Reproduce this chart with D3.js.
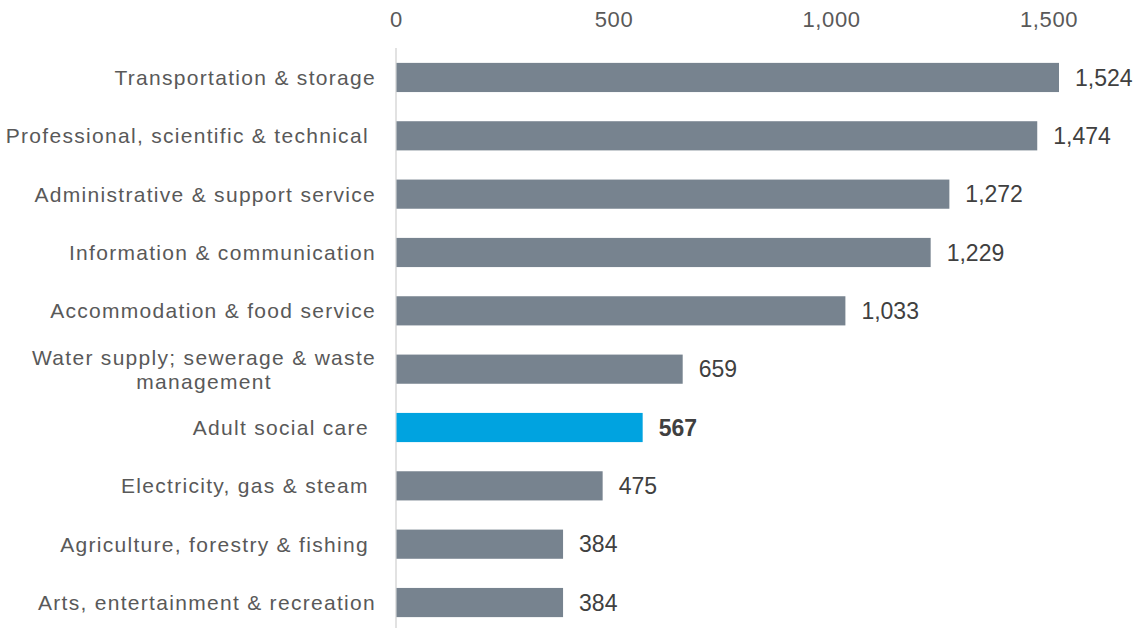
<!DOCTYPE html>
<html><head><meta charset="utf-8">
<script src="https://cdn.jsdelivr.net/npm/d3@7"></script>
<style>
body{margin:0;background:#fff;}
text{font-family:"Liberation Sans",Arial,sans-serif;}
</style></head>
<body><svg id="c" width="1138" height="628"></svg>
<script>
const categories = [
  "Transportation & storage",
  "Professional, scientific & technical ",
  "Administrative & support service",
  "Information & communication",
  "Accommodation & food service",
  "Water supply; sewerage & waste|management",
  "Adult social care ",
  "Electricity, gas & steam ",
  "Agriculture, forestry & fishing ",
  "Arts, entertainment & recreation"
];
const values = [1524, 1474, 1272, 1229, 1033, 659, 567, 475, 384, 384];
const highlighted = ["Adult social care "];
const tickValues = [0, 500, 1000, 1500];

const svg = d3.select("#c");
const x = d3.scaleLinear().domain([0, 1524]).range([396, 1059]);
const y = d3.scaleBand().domain(categories).range([48.3, 631.7]).paddingInner(0.5).paddingOuter(0.25);

// axis line
svg.append("line").attr("x1", x(0)).attr("x2", x(0)).attr("y1", 48).attr("y2", 628)
  .attr("stroke", "#d9d9d9").attr("stroke-width", 1.5);

// top tick labels
const xAxis = d3.axisTop(x).tickValues(tickValues).tickFormat(d3.format(",")).tickSize(0).tickPadding(0);
const gx = svg.append("g").attr("transform", "translate(0,27)").call(xAxis);
gx.select(".domain").remove();
gx.selectAll("text").attr("font-size", 22).attr("fill", "#595959")
  .attr("font-family", "Liberation Sans, Arial, sans-serif").attr("dy", 0)
  .style("letter-spacing", "0.6px");

const rows = categories.map((c, i) => ({c, v: values[i]}));

svg.selectAll("rect.bar").data(rows).enter().append("rect")
  .attr("x", x(0) + 0.5)
  .attr("y", d => y(d.c))
  .attr("width", d => x(d.v) - x(0) - 0.5)
  .attr("height", y.bandwidth())
  .attr("fill", d => highlighted.includes(d.c) ? "#00a3e0" : "#77838f");

// value labels
svg.selectAll("text.val").data(rows).enter().append("text")
  .attr("x", d => x(d.v) + 16)
  .attr("y", d => y(d.c) + y.bandwidth() / 2)
  .attr("dy", "0.36em")
  .attr("font-size", 23)
  .attr("font-weight", d => highlighted.includes(d.c) ? "bold" : "normal")
  .attr("fill", "#404040")
  .text(d => d3.format(",")(d.v));

// category labels
rows.forEach(d => {
  const cy = y(d.c) + y.bandwidth() / 2;
  const lines = d.c.split("|");
  if (lines.length === 1) {
    svg.append("text").attr("x", 376).attr("y", cy).attr("dy", "0.36em")
      .attr("text-anchor", "end").attr("font-size", 21).attr("fill", "#595959")
      .style("letter-spacing", "1.3px")
      .style("white-space", "pre").text(d.c);
  } else {
    const t = svg.append("text").attr("font-size", 21).attr("fill", "#595959")
      .attr("text-anchor", "middle").style("white-space", "pre").style("letter-spacing", "1.3px");
    const t1 = t.append("tspan").text(lines[0]).attr("y", cy - 12).attr("dy", "0.36em");
    const w = t1.node().getComputedTextLength();
    const cx = 376 - w / 2;
    t1.attr("x", cx);
    t.append("tspan").text(lines[1]).attr("x", cx).attr("y", cy + 12).attr("dy", "0.36em");
  }
});
</script></body></html>
